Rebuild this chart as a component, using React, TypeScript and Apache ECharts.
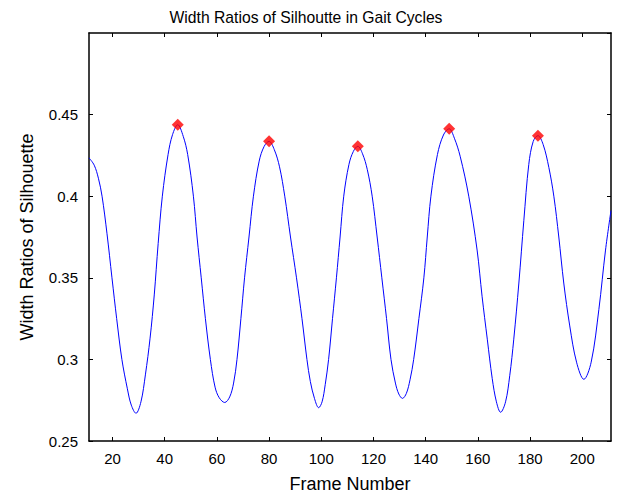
import React, { useEffect, useRef } from "react";
import * as echarts from "echarts";

const frames = [
  11, 13, 14.6, 16.0, 17.9, 19.8, 21.6, 23.6, 25.7, 27.2, 29.0, 30.9, 32.6, 34.4, 36.0, 37.5,
  39.1, 41.3, 43.0, 45, 47.1, 48.8, 51.0, 52.4, 54.0, 55.6, 57.5, 59.3, 60.9, 63.0, 64.9, 66.4,
  67.7, 69.2, 70.6, 72.3, 74.0, 76.2, 78.1, 80, 82.0, 84.0, 86.0, 88.2, 90.5, 92.6, 94.5, 95.8,
  97.4, 99.0, 100.3, 101.5, 102.8, 104.3, 105.8, 107.2, 108.6, 110.6, 112.3, 114, 115.8, 117.6,
  119.5, 121.4, 123.2, 125.0, 126.7, 128.4, 129.7, 131.1, 132.6, 134.0, 135.4, 137.4, 139.3,
  140.6, 142.0, 144.5, 146.8, 149, 151.0, 153.2, 156.5, 159.7, 161.6, 163.6, 165.5, 167.1,
  168.7, 170.6, 172.2, 173.75, 175.7, 177.6, 179.5, 181.2, 183, 185.0, 187.2, 189.1, 191.0,
  192.9, 195.2, 197.8, 200.6, 203.4, 206.35, 208.9, 211,
];
const widthRatios = [
  0.4235, 0.419, 0.411, 0.4, 0.377, 0.35, 0.325, 0.3, 0.282, 0.272, 0.267, 0.274, 0.2905, 0.313,
  0.3395, 0.371, 0.4, 0.4256, 0.4377, 0.4438, 0.4367, 0.4256, 0.4, 0.375, 0.35, 0.325, 0.3,
  0.283, 0.2765, 0.2736, 0.277, 0.2855, 0.3, 0.325, 0.35, 0.375, 0.4, 0.4215, 0.4305, 0.4336,
  0.4285, 0.418, 0.4, 0.375, 0.35, 0.325, 0.3, 0.2865, 0.276, 0.2704, 0.274, 0.2845, 0.3,
  0.325, 0.35, 0.375, 0.4, 0.4195, 0.4275, 0.4306, 0.426, 0.4165, 0.4, 0.375, 0.35, 0.325, 0.3,
  0.2855, 0.2788, 0.2761, 0.2792, 0.2875, 0.3, 0.325, 0.35, 0.375, 0.4, 0.4255, 0.4375, 0.4413,
  0.4355, 0.4245, 0.4, 0.367, 0.3387, 0.3124, 0.2882, 0.274, 0.2676, 0.274, 0.29, 0.3124,
  0.3468, 0.385, 0.4195, 0.4336, 0.4371, 0.4317, 0.4175, 0.4, 0.375, 0.3468, 0.3205, 0.2983,
  0.2878, 0.2983, 0.3306, 0.367, 0.3912,
];
const peakFrames = [45, 80, 114, 149, 183];
const peakValues = [0.4438, 0.4336, 0.4306, 0.4413, 0.4371];
const xTicks = [20, 40, 60, 80, 100, 120, 140, 160, 180, 200];

const FONT = "'Liberation Sans', Arial, Helvetica, sans-serif";

export default function App() {
  const ref = useRef<HTMLDivElement>(null);
  useEffect(() => {
    if (!ref.current) return;
    const chart = echarts.init(ref.current, null, { renderer: "svg" });
    const axisLine = { show: true, lineStyle: { color: "#000", width: 1.5 } };
    const tick = { show: true, inside: true, length: 4, lineStyle: { color: "#000", width: 1 } };
    chart.setOption({
      animation: false,
      backgroundColor: "#fff",
      title: {
        text: "Width Ratios of Silhoutte in Gait Cycles",
        left: 301,
        top: 4,
        textAlign: "center",
        textStyle: { fontFamily: FONT, fontSize: 15.7, fontWeight: "normal", color: "#000" },
      },
      grid: { left: 89, right: 6, top: 33, bottom: 55, containLabel: false },
      xAxis: [
        {
          type: "value",
          position: "bottom",
          min: 11,
          max: 211,
          axisLine,
          axisTick: { ...tick, customValues: xTicks },
          axisLabel: {
            customValues: xTicks,
            color: "#000",
            fontFamily: FONT,
            fontSize: 15,
            margin: 10,
          },
          splitLine: { show: false },
          name: "Frame Number",
          nameLocation: "middle",
          nameGap: 34,
          nameTextStyle: { fontFamily: FONT, fontSize: 18, color: "#000" },
        },
        {
          type: "value",
          position: "top",
          min: 11,
          max: 211,
          axisLine,
          axisTick: { ...tick, customValues: xTicks },
          axisLabel: { show: false },
          splitLine: { show: false },
        },
      ],
      yAxis: [
        {
          type: "value",
          position: "left",
          min: 0.25,
          max: 0.5,
          interval: 0.05,
          axisLine,
          axisTick: tick,
          axisLabel: {
            color: "#000",
            fontFamily: FONT,
            fontSize: 15,
            margin: 11,
            showMaxLabel: false,
            formatter: (v: number) => (v >= 0.499 ? "" : String(Math.round(v * 100) / 100)),
          },
          splitLine: { show: false },
          name: "Width Ratios of Silhouette",
          nameLocation: "middle",
          nameGap: 53,
          nameTextStyle: { fontFamily: FONT, fontSize: 18, color: "#000" },
        },
        {
          type: "value",
          position: "right",
          min: 0.25,
          max: 0.5,
          interval: 0.05,
          axisLine,
          axisTick: tick,
          axisLabel: { show: false },
          splitLine: { show: false },
        },
      ],
      series: [
        {
          type: "line",
          data: frames.map((f, i) => [f, widthRatios[i]]),
          smooth: 0.35,
          showSymbol: false,
          lineStyle: { color: "#0000ff", width: 1 },
          xAxisIndex: 0,
          yAxisIndex: 0,
          z: 2,
        },
        {
          type: "scatter",
          data: peakFrames.map((f, i) => [f, peakValues[i]]),
          symbol: "diamond",
          symbolSize: 12,
          itemStyle: { color: "#ff0000" },
          xAxisIndex: 0,
          yAxisIndex: 0,
          z: 3,
        },
      ],
    });
    return () => chart.dispose();
  }, []);
  return (
    <div
      ref={ref}
      style={{ position: "absolute", left: 0, top: 0, width: 617, height: 498 }}
    />
  );
}
